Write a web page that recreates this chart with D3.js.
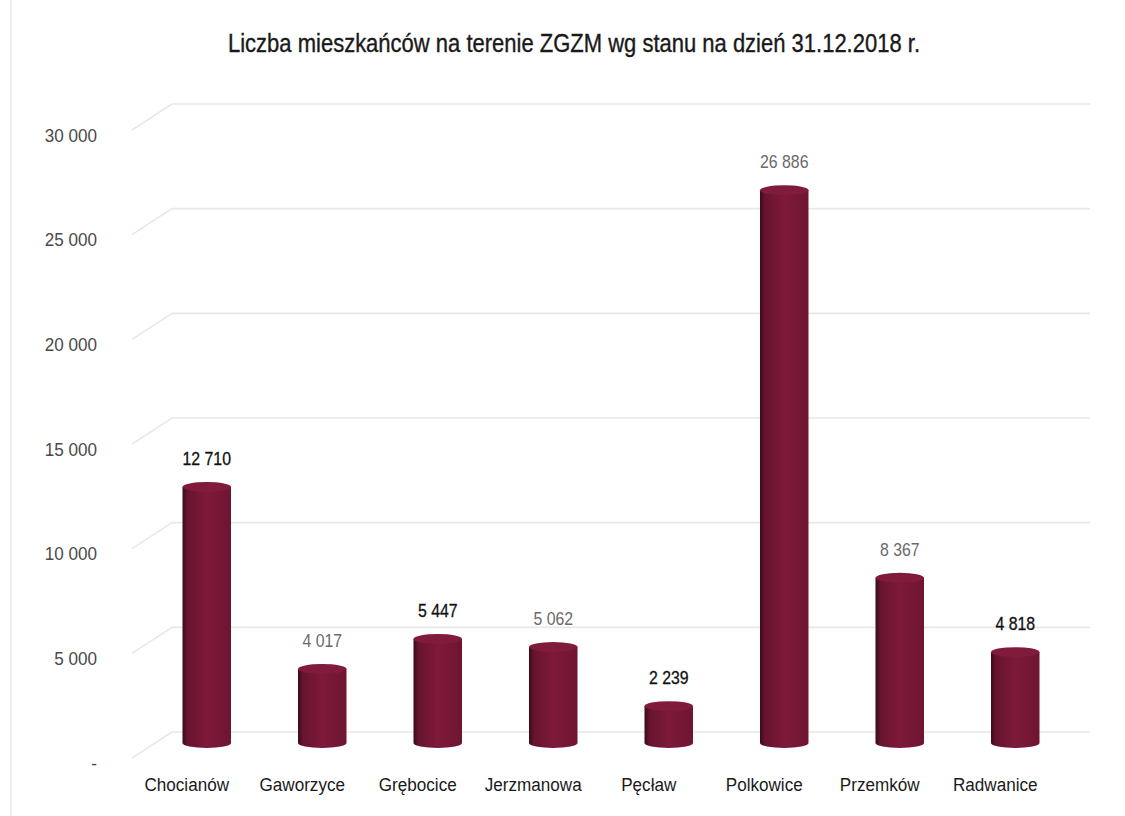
<!DOCTYPE html>
<html>
<head>
<meta charset="utf-8">
<script src="https://cdn.jsdelivr.net/npm/d3@7"></script>
<style>
  body { margin: 0; background: #fff; }
  text { font-family: "Liberation Sans", Arial, sans-serif; }
</style>
</head>
<body>
<div id="chart"></div>
<script>
// data
const gminy = ["Chocianów", "Gaworzyce", "Grębocice", "Jerzmanowa", "Pęcław", "Polkowice", "Przemków", "Radwanice"];
const mieszkancy = [12710, 4017, 5447, 5062, 2239, 26886, 8367, 4818];
const yTicks = [0, 5000, 10000, 15000, 20000, 25000, 30000];
const title = "Liczba mieszkańców na terenie ZGZM wg stanu na dzień 31.12.2018 r.";

// label tones as seen in the scan (some dark, some greyish)
const labelTone = ["#111", "#6a6a6a", "#111", "#6a6a6a", "#111", "#6a6a6a", "#6a6a6a", "#111"];

const width = 1125, height = 816;
const narrow = "scale(0.88,1)";

const svg = d3.select("#chart")
    .append("svg")
    .attr("width", width)
    .attr("height", height);

const pl = d3.formatLocale({decimal: ",", thousands: " ", grouping: [3], currency: ["", " zł"]});
const fmt = pl.format(",d");

const x = d3.scaleBand()
    .domain(gminy)
    .range([149, 1073])
    .paddingInner(0.58)
    .paddingOuter(0.29);

const y = d3.scaleLinear()
    .domain([0, 30000])
    .range([748, 120]);

// gradient for the cylinders
const defs = svg.append("defs");
const grad = defs.append("linearGradient").attr("id", "cyl").attr("x1", "0").attr("x2", "1");
grad.append("stop").attr("offset", "0%").attr("stop-color", "#3a0b18");
grad.append("stop").attr("offset", "10%").attr("stop-color", "#66142f");
grad.append("stop").attr("offset", "50%").attr("stop-color", "#7e1939");
grad.append("stop").attr("offset", "100%").attr("stop-color", "#6e1531");

// faint scan frame
svg.append("line")
    .attr("x1", 11).attr("x2", 11).attr("y1", 0).attr("y2", height)
    .attr("stroke", "#efefef").attr("stroke-width", 2);

// back wall gridlines with a short perspective stub on the left
const grid = svg.append("g");
grid.selectAll(".grid")
    .data(yTicks)
    .enter().append("path")
    .attr("class", "grid")
    .attr("d", d => `M132,${y(d) + 10}L172,${y(d) - 16}L1090,${y(d) - 16}`)
    .attr("fill", "none")
    .attr("stroke", "#e8e8e8")
    .attr("stroke-width", 1.6);

// title
svg.append("text")
    .attr("x", 228)
    .attr("y", 52)
    .attr("font-size", "25px")
    .attr("textLength", 692)
    .attr("lengthAdjust", "spacingAndGlyphs")
    .attr("fill", "#1a1a1a")
    .attr("stroke", "#1a1a1a")
    .attr("stroke-width", 0.35)
    .text(title);

// y axis
const yAxis = svg.append("g")
    .attr("transform", "translate(97, 15)")
    .call(d3.axisLeft(y)
        .tickValues(yTicks)
        .tickSize(0)
        .tickPadding(0)
        .tickFormat(d => d === 0 ? "-" : fmt(d)));
yAxis.select(".domain").remove();
yAxis.selectAll("text")
    .attr("font-size", "19px")
    .attr("fill", "#4a4a4a")
    .attr("transform", "scale(0.9,1)")
    .style("font-family", "'Liberation Sans', Arial, sans-serif");

// x axis (category names), shifted left like the 3D floor labels
const xAxis = svg.append("g")
    .attr("transform", "translate(-20, 777)")
    .call(d3.axisBottom(x).tickSize(0).tickPadding(0));
xAxis.select(".domain").remove();
xAxis.selectAll("text")
    .attr("font-size", "19px")
    .attr("fill", "#1a1a1a")
    .attr("transform", "scale(0.9,1)")
    .style("font-family", "'Liberation Sans', Arial, sans-serif");

// cylinders
const ry = 5;
const bars = svg.append("g");
bars.selectAll(".bar")
    .data(mieszkancy)
    .enter().append("path")
    .attr("class", "bar")
    .attr("d", function(d, i) {
        const x0 = x(gminy[i]), x1 = x0 + x.bandwidth(), rx = x.bandwidth() / 2;
        const yt = y(d) + ry, yb = y(0) - ry;
        return `M${x0},${yt}L${x0},${yb}A${rx},${ry} 0 0 0 ${x1},${yb}L${x1},${yt}Z`;
    })
    .attr("fill", "url(#cyl)");

bars.selectAll(".cap")
    .data(mieszkancy)
    .enter().append("ellipse")
    .attr("class", "cap")
    .attr("cx", (d, i) => x(gminy[i]) + x.bandwidth() / 2)
    .attr("cy", d => y(d) + ry)
    .attr("rx", x.bandwidth() / 2)
    .attr("ry", ry)
    .attr("fill", "#801b3b");

// value labels
svg.selectAll(".val")
    .data(mieszkancy)
    .enter().append("text")
    .attr("class", "val")
    .attr("transform", (d, i) => `translate(${x(gminy[i]) + x.bandwidth() / 2},${y(d) - 17}) ${narrow}`)
    .attr("text-anchor", "middle")
    .attr("font-size", "18px")
    .attr("fill", (d, i) => labelTone[i])
    .attr("stroke", (d, i) => labelTone[i])
    .attr("stroke-width", (d, i) => labelTone[i] === "#111" ? 0.3 : 0)
    .text(d => fmt(d));
</script>
</body>
</html>
